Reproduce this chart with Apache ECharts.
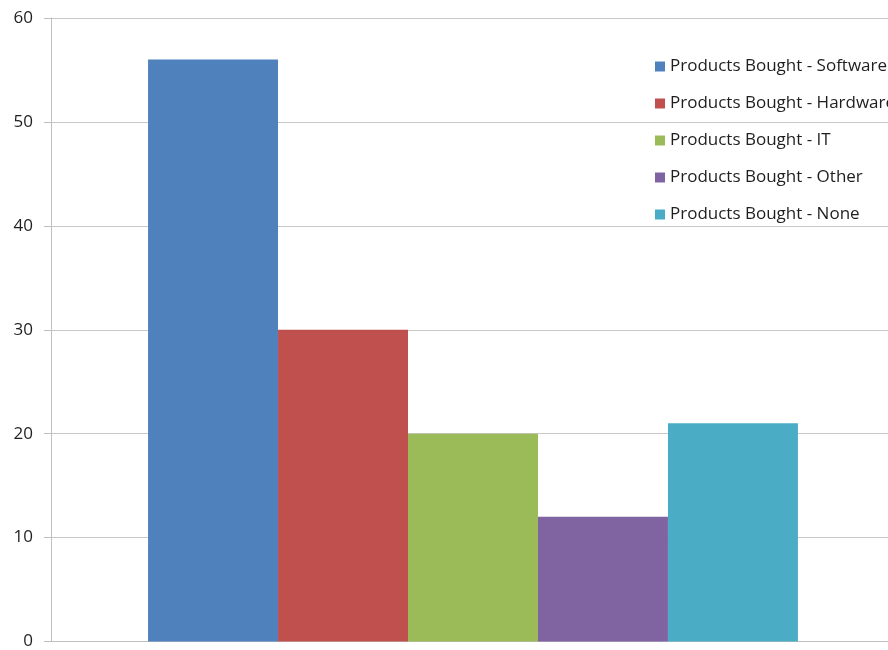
<!DOCTYPE html>
<html>
<head>
<meta charset="utf-8">
<script src="https://cdn.jsdelivr.net/npm/echarts@6/dist/echarts.min.js"></script>
<style>
html,body{margin:0;padding:0;overflow:hidden;background:#fff;width:888px;height:650px;}
#chart{width:895px;height:650px;}
</style>
</head>
<body>
<div id="chart"></div>
<script>
const categories = ['Products Bought'];
const seriesNames = ['Products Bought - Software','Products Bought - Hardware','Products Bought - IT','Products Bought - Other','Products Bought - None'];
const seriesValues = [56, 30, 20, 12, 21];
const colors = ['#4F81BD','#C0504D','#9BBB59','#8064A2','#4BACC6'];
const yTicks = [0,10,20,30,40,50,60];

const chart = echarts.init(document.getElementById('chart'), null, {renderer:'canvas'});
chart.setOption({
  animation:false,
  textStyle:{fontFamily:'Open Sans'},
  legend:{
    orient:'vertical', left:650, top:53, itemWidth:10, itemHeight:10, itemGap:20,
    icon:'rect',
    textStyle:{fontSize:17, color:'#1e1e1e', fontFamily:'Open Sans'},
    data: seriesNames
  },
  grid:{left:51, right:0, top:18, bottom:8, containLabel:false},
  xAxis:{
    type:'category', data:categories,
    axisLine:{show:true, lineStyle:{color:'#bfbfbf', width:1}},
    axisTick:{show:false}, axisLabel:{show:false}
  },
  yAxis:{
    type:'value', min:yTicks[0], max:yTicks[yTicks.length-1], interval:10,
    axisLine:{show:true, lineStyle:{color:'#bfbfbf'}},
    axisTick:{show:true, length:7, lineStyle:{color:'#bfbfbf'}},
    axisLabel:{fontSize:17, color:'#1e1e1e', margin:18, fontFamily:'Open Sans'},
    splitLine:{lineStyle:{color:'#c8c8c8'}}
  },
  series: seriesNames.map((n,i)=>({
    name:n, type:'bar', data:[seriesValues[i]],
    barGap:'0%', barCategoryGap:'23%',
    itemStyle:{color:colors[i]}
  }))
});
</script>
</body>
</html>
